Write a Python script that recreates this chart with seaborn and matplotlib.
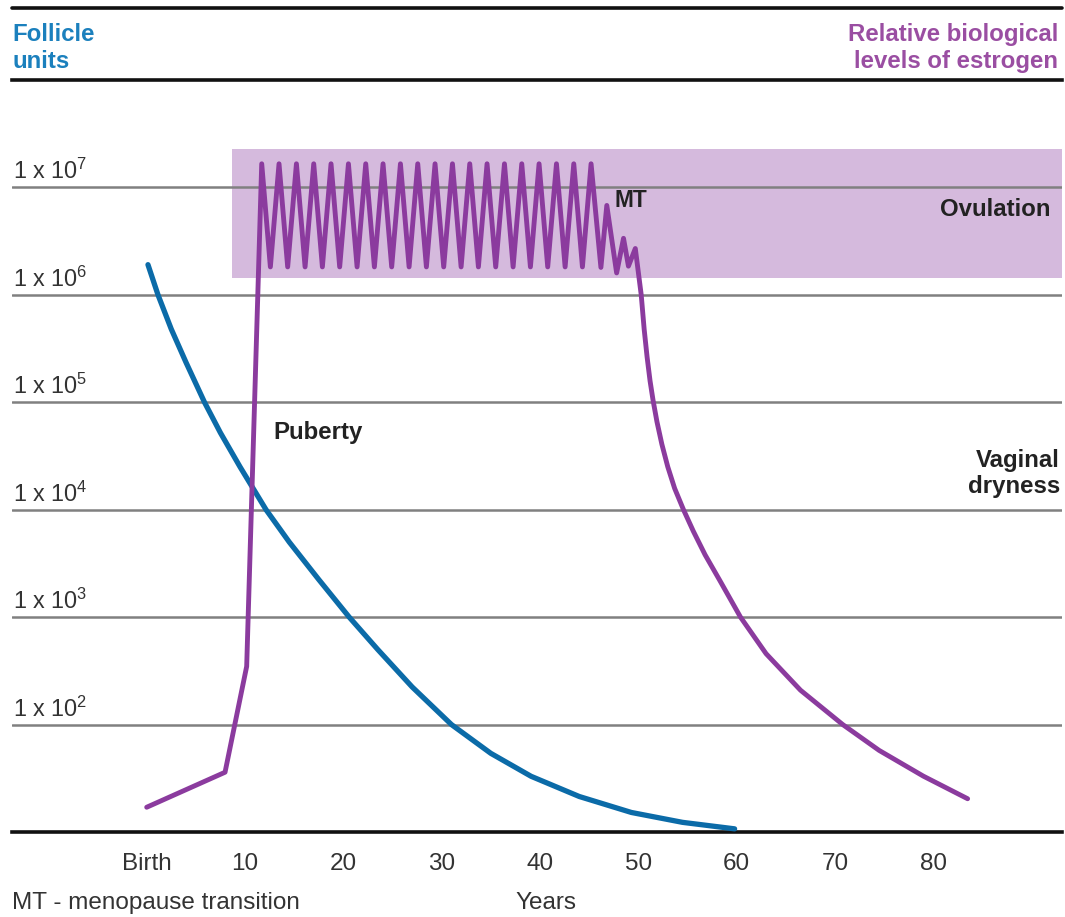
import matplotlib
matplotlib.use("Agg")
import matplotlib.pyplot as plt
import seaborn as sns
import pandas as pd
from matplotlib.lines import Line2D

# ---------------- data ----------------
follicle_years = [0.13, 1.15, 2.5, 4.0, 5.88, 7.5, 9.5, 12.14, 14.5, 17.5,
                  20.6, 23.5, 27.0, 31.0, 35.0, 39.1, 44.0, 49.3, 54.5, 59.8]
follicle_units = [1.91e6, 1.0e6, 4.8e5, 2.35e5, 1.0e5, 5.2e4, 2.5e4, 1.0e4,
                  5.0e3, 2.24e3, 1.0e3, 500, 224, 100, 54, 33, 21.4, 15.2,
                  12.3, 10.7]

estrogen_years = [0.0, 7.97, 10.17, 11.70,
                  12.58, 13.46, 14.34, 15.23, 16.11, 16.99, 17.87, 18.75,
                  19.63, 20.52, 21.40, 22.28, 23.16, 24.04, 24.92, 25.81,
                  26.69, 27.57, 28.45, 29.33, 30.21, 31.10, 31.98, 32.86,
                  33.74, 34.62, 35.50, 36.39, 37.27, 38.15, 39.03, 39.91,
                  40.79, 41.68, 42.56, 43.44, 44.32, 45.20,
                  46.2, 46.8, 47.8, 48.5, 49.0, 49.7, 50.3,
                  50.6, 50.9, 51.2, 51.5, 51.9, 52.4, 53.0, 53.7, 54.6,
                  55.6, 56.8, 58.3, 60.4, 63.0, 66.5, 70.8, 74.5, 79.0, 83.5]
estrogen_levels = [17, 36, 348, 1.66e7,
                   1.82e6, 1.66e7, 1.82e6, 1.66e7, 1.82e6, 1.66e7, 1.82e6, 1.66e7,
                   1.82e6, 1.66e7, 1.82e6, 1.66e7, 1.82e6, 1.66e7, 1.82e6, 1.66e7,
                   1.82e6, 1.66e7, 1.82e6, 1.66e7, 1.82e6, 1.66e7, 1.82e6, 1.66e7,
                   1.82e6, 1.66e7, 1.82e6, 1.66e7, 1.82e6, 1.66e7, 1.82e6, 1.66e7,
                   1.82e6, 1.66e7, 1.82e6, 1.66e7, 1.82e6, 1.66e7,
                   1.8e6, 6.8e6, 1.6e6, 3.36e6, 1.85e6, 2.7e6, 1.0e6,
                   4.79e5, 2.63e5, 1.58e5, 1.05e5, 6.6e4, 4.07e4, 2.51e4, 1.58e4,
                   1.0e4, 6.31e3, 3.8e3, 2.19e3, 1.0e3, 457, 209, 100, 57.5,
                   33.1, 20.4]

ovulation_band_years = [8.68, 93.1]
ovulation_band_levels = [1.43e6, 2.3e7]

xtick_values = [0, 10, 20, 30, 40, 50, 60, 70, 80]
xtick_labels = ["Birth", "10", "20", "30", "40", "50", "60", "70", "80"]
ytick_exponents = [2, 3, 4, 5, 6, 7]

# ---------------- style ----------------
sns.set_theme(style="white")
plt.rcParams["font.family"] = ["Liberation Sans", "DejaVu Sans"]
plt.rcParams["mathtext.fontset"] = "custom"
plt.rcParams["mathtext.rm"] = "Liberation Sans"
plt.rcParams["mathtext.it"] = "Liberation Sans:italic"
plt.rcParams["mathtext.bf"] = "Liberation Sans:bold"

BLUE = "#0b6ba8"
BLUE_T = "#1b80bd"
PURPLE = "#8b3b9e"
PURPLE_T = "#9a4ea2"
SHADE = "#d5badd"
TXT = "#333333"
FS_B = 17.3
FS_R = 17.5

W, H = 1065, 917
fig = plt.figure(figsize=(W / 100, H / 100), dpi=100)
ax = fig.add_axes([12 / W, 1 - 832 / H, (1062 - 12) / W, (832 - 80) / H])

ax.set_yscale("log")
ax.set_xlim(-13.7, 93.1)
ax.set_ylim(10, 1e8)

# shaded ovulation band
ax.fill_between(ovulation_band_years, ovulation_band_levels[0], ovulation_band_levels[1],
                color=SHADE, lw=0, zorder=1)

# grid lines and their labels
for e in ytick_exponents:
    ax.axhline(10 ** e, color="#808080", lw=1.8, zorder=2)
    ax.text(-13.62, 10 ** (e + 0.075), r"1 x 10$^{\mathregular{%d}}$" % e,
            fontsize=16.8, color=TXT, ha="left", va="baseline", zorder=3)

df_f = pd.DataFrame({"year": follicle_years, "units": follicle_units})
df_e = pd.DataFrame({"year": estrogen_years, "level": estrogen_levels})
sns.lineplot(data=df_f, x="year", y="units", color=BLUE, lw=3.8, ax=ax,
             sort=False, estimator=None, zorder=4)
sns.lineplot(data=df_e, x="year", y="level", color=PURPLE, lw=3.5, ax=ax,
             sort=False, estimator=None, zorder=5)

# annotations
ax.text(12.85, 10 ** 4.72, "Puberty", fontsize=FS_B, fontweight="bold",
        color="#222222", ha="left", va="center")
ax.text(47.6, 10 ** 6.88, "MT", fontsize=FS_B - 1, fontweight="bold",
        color="#222222", ha="left", va="center")
ax.text(91.9, 10 ** 6.79, "Ovulation", fontsize=FS_B, fontweight="bold",
        color="#222222", ha="right", va="center")
ax.text(92.9, 10 ** 4.34, "Vaginal\ndryness", fontsize=FS_B, fontweight="bold",
        color="#222222", ha="right", va="center", linespacing=1.15)

# axes styling
for s in ["left", "right"]:
    ax.spines[s].set_visible(False)
for s in ["top", "bottom"]:
    ax.spines[s].set_visible(True)
    ax.spines[s].set_color("#111111")
    ax.spines[s].set_linewidth(2.6)
ax.set_yticks([])
ax.minorticks_off()
ax.set_xticks(xtick_values)
ax.set_xticklabels(xtick_labels, fontsize=FS_R, color=TXT)
ax.tick_params(axis="x", length=0, pad=15)
ax.set_xlabel("")
ax.set_ylabel("")

# header line and titles
fig.add_artist(Line2D([12 / W, 1062 / W], [1 - 8 / H, 1 - 8 / H],
                      color="#111111", lw=2.6))
fig.text(12 / W, 1 - 48 / H, "Follicle\nunits", fontsize=FS_B, fontweight="bold",
         color=BLUE_T, ha="left", va="center", linespacing=1.2)
fig.text(1058 / W, 1 - 48 / H, "Relative biological\nlevels of estrogen",
         fontsize=FS_B, fontweight="bold", color=PURPLE_T, ha="right", va="center",
         linespacing=1.2)

# footer
fig.text(12 / W, 1 - 903 / H, "MT - menopause transition", fontsize=FS_R,
         color=TXT, ha="left", va="center")
fig.text(546 / W, 1 - 903 / H, "Years", fontsize=FS_R, color=TXT,
         ha="center", va="center")

fig.savefig("out.png", dpi=100)
